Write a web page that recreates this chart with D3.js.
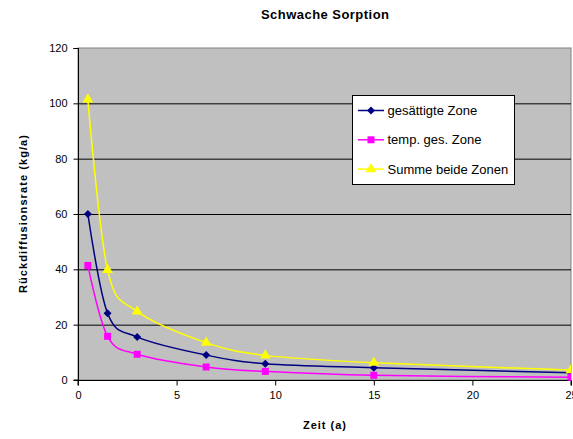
<!DOCTYPE html>
<html><head><meta charset="utf-8">
<script src="https://cdn.jsdelivr.net/npm/d3@7"></script>
<style>body{margin:0;background:#fff;}svg{display:block;font-family:Arial,"Liberation Sans",sans-serif;}</style>
</head><body><svg id="c" width="573" height="439"></svg>
<script>
const xValues = [0.5, 1.5, 3, 6.5, 9.5, 15, 25];
const gesaettigt = [60, 24.1, 15.5, 9.0, 5.9, 4.45, 2.6];
const tempGes = [41.4, 15.8, 9.3, 4.7, 3.1, 1.7, 1.0];
const summe = [101.4, 39.8, 24.8, 13.5, 8.9, 6.25, 3.6];
const seriesNames = ["gesättigte Zone", "temp. ges. Zone", "Summe beide Zonen"];
const xTicks = [0, 5, 10, 15, 20, 25];
const yTicks = [0, 20, 40, 60, 80, 100, 120];

const svg = d3.select("#c");
const L = 78, R = 571, T = 48, B = 380;
const x = d3.scaleLinear().domain([0, 25]).range([L, R]);
const y = d3.scaleLinear().domain([0, 120]).range([B, T]);

svg.append("rect").attr("x", L).attr("y", T).attr("width", R - L).attr("height", B - T)
  .attr("fill", "#c0c0c0").attr("stroke", "#808080").attr("stroke-width", 1);

svg.append("g").selectAll("line").data(yTicks.filter(d => d > 0 && d < 120)).join("line")
  .attr("x1", L).attr("x2", R).attr("y1", d => y(d) + 0.5).attr("y2", d => y(d) + 0.5)
  .attr("stroke", "#000").attr("stroke-width", 1);

const yAxis = d3.axisLeft(y).tickValues(yTicks).tickSize(5).tickPadding(6);
const gy = svg.append("g").attr("transform", `translate(${L + 0.5},0)`).call(yAxis);
const xAxis = d3.axisBottom(x).tickValues(xTicks).tickSize(5).tickPadding(6);
const gx = svg.append("g").attr("transform", `translate(0,${B + 0.5})`).call(xAxis);
[gx, gy].forEach(g => {
  g.select(".domain").attr("stroke", "#000");
  g.selectAll(".tick line").attr("stroke", "#000");
  g.selectAll("text").attr("font-size", 11).attr("fill", "#000").attr("font-family", "Arial, 'Liberation Sans', sans-serif");
});
gy.select(".domain").attr("d", `M-5,${T + 0.5}H0V${B}H-5`);
gx.select(".domain").attr("d", `M${L},5V0H${R}V5`);

const diamond = { draw(ctx, size) { const r = Math.sqrt(size) / 2; ctx.moveTo(0, -r); ctx.lineTo(r, 0); ctx.lineTo(0, r); ctx.lineTo(-r, 0); ctx.closePath(); } };
const series = [
  {name: seriesNames[0], vals: gesaettigt, color: "#000080", sym: diamond, size: 64},
  {name: seriesNames[1], vals: tempGes, color: "#ff00ff", sym: d3.symbolSquare, size: 49},
  {name: seriesNames[2], vals: summe, color: "#ffff00", sym: d3.symbolTriangle, size: 50}
];
const line = d3.line().x(d => x(d[0])).y(d => y(d[1])).curve(d3.curveCardinal.tension(0));

svg.append("clipPath").attr("id", "clipP").append("rect")
  .attr("x", L - 10).attr("y", T - 10).attr("width", R - L + 10).attr("height", B - T + 20);

series.forEach(s => {
  const pts = xValues.map((xv, i) => [xv, s.vals[i]]);
  const g = svg.append("g").attr("clip-path", "url(#clipP)");
  g.append("path").attr("d", line(pts)).attr("fill", "none").attr("stroke", s.color).attr("stroke-width", 1.5);
  g.selectAll("path.m").data(pts).join("path").attr("class", "m")
    .attr("transform", d => `translate(${x(d[0])},${y(d[1])})`)
    .attr("d", d3.symbol().type(s.sym).size(s.size)).attr("fill", s.color);
});

const lg = svg.append("g");
lg.append("rect").attr("x", 352.5).attr("y", 95.5).attr("width", 162).attr("height", 89)
  .attr("fill", "#fff").attr("stroke", "#000");
series.forEach((s, i) => {
  const yy = 110.5 + i * 29.3;
  lg.append("line").attr("x1", 358).attr("x2", 384).attr("y1", yy).attr("y2", yy).attr("stroke", s.color).attr("stroke-width", 1.5);
  lg.append("path").attr("transform", `translate(371,${yy})`).attr("d", d3.symbol().type(s.sym).size(s.size)).attr("fill", s.color);
  lg.append("text").attr("x", 387.5).attr("y", yy + 4.5).attr("font-size", 13).text(s.name);
});

svg.append("text").attr("x", 325).attr("y", 19).attr("text-anchor", "middle")
  .attr("font-size", 13).attr("font-weight", "bold").attr("textLength", 128).attr("lengthAdjust", "spacing").text("Schwache Sorption");
svg.append("text").attr("x", 324.5).attr("y", 429).attr("text-anchor", "middle")
  .attr("font-size", 11).attr("font-weight", "bold").attr("textLength", 43).attr("lengthAdjust", "spacing").text("Zeit (a)");
svg.append("text").attr("transform", `translate(27,${(T + B) / 2}) rotate(-90)`).attr("text-anchor", "middle")
  .attr("font-size", 11).attr("font-weight", "bold").attr("textLength", 158).attr("lengthAdjust", "spacing").text("Rückdiffusionsrate (kg/a)");
</script></body></html>
